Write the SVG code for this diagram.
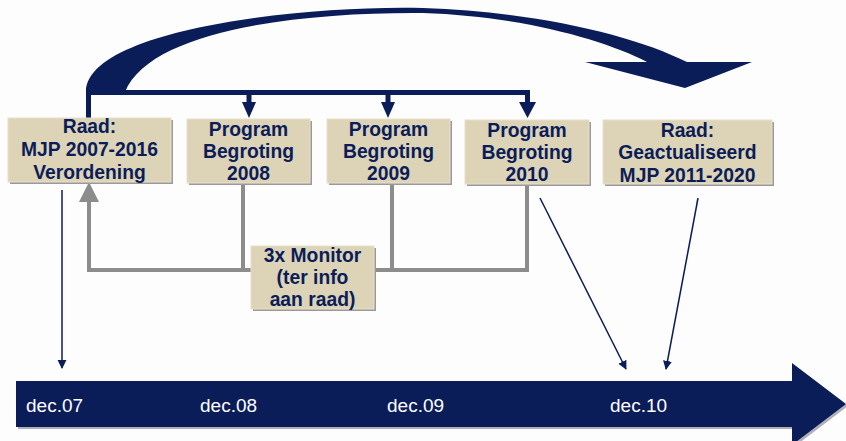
<svg xmlns="http://www.w3.org/2000/svg" width="846" height="441" viewBox="0 0 846 441">
<style>
.box{fill:#ddd3b7;stroke:#e8e0cc;stroke-width:1}
.shadow{fill:#9a9a9a}
.t{font-family:"Liberation Sans",Arial,sans-serif;font-weight:bold;font-size:19.3px;fill:#0b1d58;text-anchor:middle}
.d{font-family:"Liberation Sans",Arial,sans-serif;font-size:19px;fill:#ffffff}
.navy{fill:#0b1d58}
.thin{stroke:#0b1d58;stroke-width:1.5;fill:none;marker-end:url(#ah)}
.gray{stroke:#8c8c8c;stroke-width:4;fill:none}
.bracket{stroke:#0b1d58;stroke-width:5;fill:none}
</style>
<defs>
<marker id="ah" viewBox="0 0 10 10" refX="9" refY="5" markerWidth="6" markerHeight="8" orient="auto" markerUnits="strokeWidth">
<path d="M0,0 L10,5 L0,10 Z" fill="#0b1d58"/>
</marker>
</defs>
<rect width="846" height="441" fill="#fdfdfd"/>

<g id="timeline">
<polygon points="18,383 794,383 794,365 848,406 794,447 794,429 18,429" fill="#b0b0b8"/>
<polygon class="navy" points="16,381 792,381 792,363 846,404 792,445 792,427 16,427"/>
<text class="d" x="26" y="412">dec.07</text>
<text class="d" x="200" y="412">dec.08</text>
<text class="d" x="387" y="412">dec.09</text>
<text class="d" x="610" y="412">dec.10</text>
</g>

<g id="connectors">
<path class="navy" d="M86,92 C86,30 300,5 423,8 C540,12 635,36 687,62 L752,62 L685,88 L585,62 L647,62 C605,40 520,16 423,13 C300,12 150,30 125,92 Z"/>
<path class="bracket" d="M88.5,118 V92.5 H527.5 V104"/>
<path class="bracket" d="M249,92 V104 M388,92 V104"/>
<polygon class="navy" points="242,102 256,102 249,118"/>
<polygon class="navy" points="381,102 395,102 388,118"/>
<polygon class="navy" points="519,102 536,102 527.5,118"/>
<path class="gray" d="M89,200 V270 H527 V184 M243,183 V270 M392,183 V270"/>
<polygon points="79,202 99,202 89,182" fill="#8c8c8c"/>
<line class="thin" x1="62" y1="190" x2="62" y2="368"/>
<line class="thin" x1="540" y1="198" x2="626" y2="369"/>
<line class="thin" x1="698" y1="198" x2="666" y2="369"/>
</g>

<g id="raad-mjp">
<rect class="shadow" x="10" y="120" width="163" height="64"/>
<rect class="box" x="8" y="118" width="163" height="64"/>
<text class="t" x="89.5" y="133">Raad:</text>
<text class="t" x="89.5" y="156">MJP 2007-2016</text>
<text class="t" x="89.5" y="179">Verordening</text>
</g>

<g id="pb2008">
<rect class="shadow" x="189" y="121" width="123" height="64"/>
<rect class="box" x="187" y="119" width="123" height="64"/>
<text class="t" x="248.5" y="136">Program</text>
<text class="t" x="248.5" y="158">Begroting</text>
<text class="t" x="248.5" y="180">2008</text>
</g>

<g id="pb2009">
<rect class="shadow" x="329" y="121" width="123" height="64"/>
<rect class="box" x="327" y="119" width="123" height="64"/>
<text class="t" x="388.5" y="136">Program</text>
<text class="t" x="388.5" y="158">Begroting</text>
<text class="t" x="388.5" y="180">2009</text>
</g>

<g id="pb2010">
<rect class="shadow" x="467" y="122" width="124" height="64"/>
<rect class="box" x="465" y="120" width="124" height="64"/>
<text class="t" x="527" y="137">Program</text>
<text class="t" x="527" y="159">Begroting</text>
<text class="t" x="527" y="181">2010</text>
</g>

<g id="raad-geact">
<rect class="shadow" x="605" y="122" width="169" height="64"/>
<rect class="box" x="603" y="120" width="169" height="64"/>
<text class="t" x="687.5" y="137">Raad:</text>
<text class="t" x="687.5" y="159">Geactualiseerd</text>
<text class="t" x="687.5" y="182">MJP 2011-2020</text>
</g>

<g id="monitor">
<rect class="shadow" x="253" y="248" width="123" height="63"/>
<rect class="box" x="251" y="246" width="123" height="63"/>
<text class="t" x="312.5" y="262">3x Monitor</text>
<text class="t" x="312.5" y="284">(ter info</text>
<text class="t" x="312.5" y="306">aan raad)</text>
</g>
</svg>
